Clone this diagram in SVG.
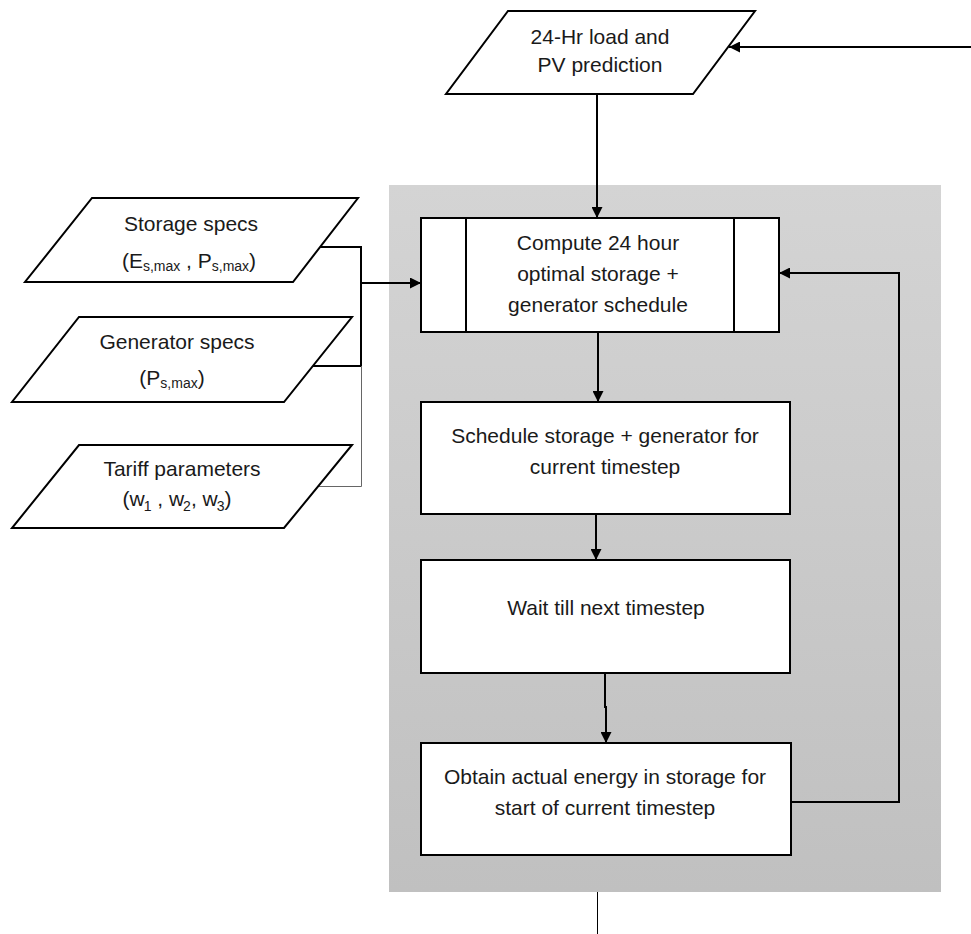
<svg xmlns="http://www.w3.org/2000/svg" width="971" height="934" viewBox="0 0 971 934">
<defs>
<linearGradient id="bg" x1="0" y1="0" x2="0" y2="1">
<stop offset="0" stop-color="#d4d4d4"/>
<stop offset="1" stop-color="#c0c0c0"/>
</linearGradient>
<marker id="ah" markerWidth="11" markerHeight="11" refX="11" refY="5.5" orient="auto" markerUnits="userSpaceOnUse">
<path d="M0,0 L11,5.5 L0,11 Z" fill="#000"/>
</marker>
</defs>
<style>
.box{fill:#fff;stroke:#000;stroke-width:2}
.t{font-family:"Liberation Sans",Arial,sans-serif;font-size:21px;fill:#1a1a1a;text-anchor:middle}
.sub{font-size:14px}
.c{fill:none;stroke:#000;stroke-width:2}
.thin{fill:none;stroke:#666;stroke-width:1}
.hair{fill:none;stroke:#000;stroke-width:1}
</style>
<rect id="frame" x="389" y="185" width="552" height="707" fill="url(#bg)"/>

<g id="connectors">
<line class="c" x1="971" y1="47" x2="729" y2="47" marker-end="url(#ah)"/>
<line class="c" x1="597" y1="94" x2="597" y2="218" marker-end="url(#ah)"/>
<polyline class="c" points="319,247 361,247 361,366 313,366"/>
<line class="c" x1="361" y1="283" x2="421" y2="283" marker-end="url(#ah)"/>
<polyline class="thin" points="361.5,366 361.5,486.5 318,486.5"/>
<line class="c" x1="598" y1="332" x2="598" y2="402" marker-end="url(#ah)"/>
<line class="c" x1="596" y1="514" x2="596" y2="560" marker-end="url(#ah)"/>
<polyline class="c" points="605,673 605,707 606,707 606,743" marker-end="url(#ah)"/>
<polyline class="c" points="791,802 899,802 899,273 779,273" marker-end="url(#ah)"/>
<line class="hair" x1="597.5" y1="892" x2="597.5" y2="934"/>
</g>

<g id="pv-input">
<polygon class="box" points="508,11 755,11 693,94 446,94"/>
<text class="t" x="600" y="44">24-Hr load and</text>
<text class="t" x="600" y="72">PV prediction</text>
</g>

<g id="storage-specs">
<polygon class="box" points="92,198 358,198 293,282 25,282"/>
<text class="t" x="191" y="231">Storage specs</text>
<text class="t" x="189" y="268">(E<tspan class="sub" dy="3">s,max</tspan><tspan dy="-3"> , P</tspan><tspan class="sub" dy="3">s,max</tspan><tspan dy="-3">)</tspan></text>
</g>

<g id="generator-specs">
<polygon class="box" points="79,317 352,317 284,402 12,402"/>
<text class="t" x="177" y="349">Generator specs</text>
<text class="t" x="172" y="385">(P<tspan class="sub" dy="3">s,max</tspan><tspan dy="-3">)</tspan></text>
</g>

<g id="tariff-parameters">
<polygon class="box" points="79,445 352,445 284,528 12,528"/>
<text class="t" x="182" y="476">Tariff parameters</text>
<text class="t" x="177" y="506">(w<tspan class="sub" dx="-1" dy="5">1</tspan><tspan dy="-5"> , w</tspan><tspan class="sub" dx="-1" dy="5">2</tspan><tspan dy="-5">, w</tspan><tspan class="sub" dx="-1" dy="5">3</tspan><tspan dy="-5">)</tspan></text>
</g>

<g id="compute-schedule">
<rect class="box" x="421" y="218" width="358" height="114"/>
<line class="c" x1="466" y1="218" x2="466" y2="332"/>
<line class="c" x1="734" y1="218" x2="734" y2="332"/>
<text class="t" x="598" y="250">Compute 24 hour</text>
<text class="t" x="598" y="281">optimal storage +</text>
<text class="t" x="598" y="312">generator schedule</text>
</g>

<g id="schedule-timestep">
<rect class="box" x="421" y="402" width="369" height="112"/>
<text class="t" x="605" y="443">Schedule storage + generator for</text>
<text class="t" x="605" y="474">current timestep</text>
</g>

<g id="wait">
<rect class="box" x="421" y="560" width="369" height="113"/>
<text class="t" x="606" y="615">Wait till next timestep</text>
</g>

<g id="obtain-energy">
<rect class="box" x="421" y="743" width="370" height="112"/>
<text class="t" x="605" y="784">Obtain actual energy in storage for</text>
<text class="t" x="605" y="815">start of current timestep</text>
</g>
</svg>
